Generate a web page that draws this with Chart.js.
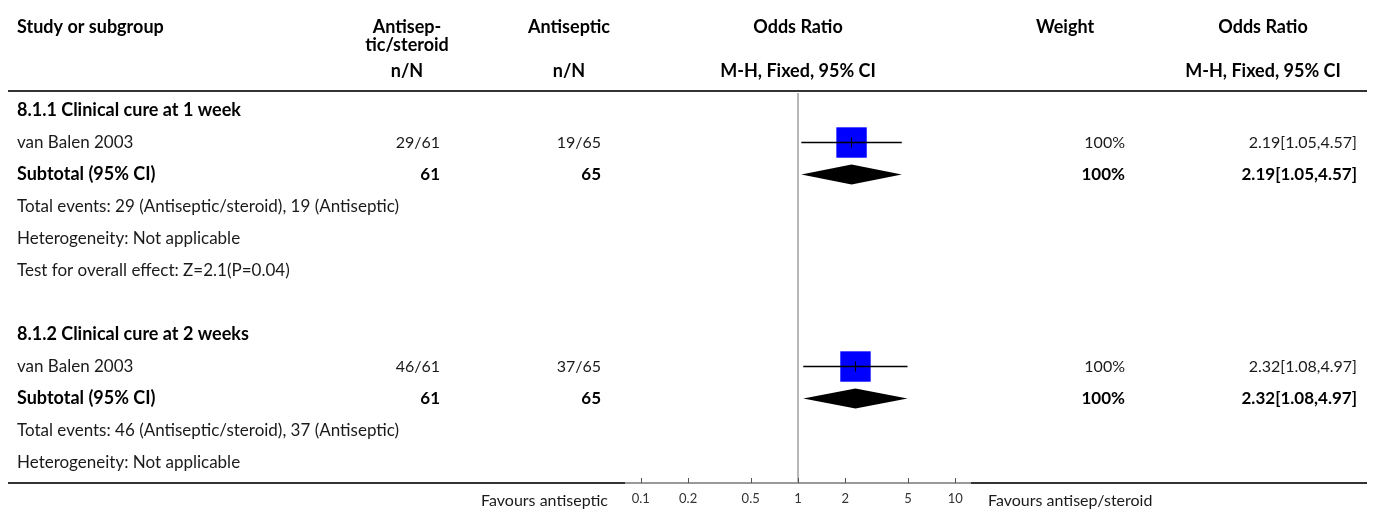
<!DOCTYPE html>
<html>
<head>
<meta charset="utf-8">
<script src="https://cdn.jsdelivr.net/npm/chart.js@4/dist/chart.umd.min.js"></script>
<style>
  html, body { margin: 0; padding: 0; background: #fff; }
  #wrap { width: 1375px; height: 511px; }
</style>
</head>
<body>
<div id="wrap"><canvas id="forest" width="1375" height="511"></canvas></div>
<script>
// --- data ---
const subgroupTitles = ['8.1.1 Clinical cure at 1 week', '8.1.2 Clinical cure at 2 weeks'];
const studyNames = ['van Balen 2003', 'van Balen 2003'];
const expEvents = [29, 46];
const expTotals = [61, 61];
const ctrlEvents = [19, 37];
const ctrlTotals = [65, 65];
const oddsRatios = [2.19, 2.32];
const ciLower = [1.05, 1.08];
const ciUpper = [4.57, 4.97];
const weights = [100, 100];
const heterogeneity = ['Not applicable', 'Not applicable'];
const overallEffect = ['Z=2.1(P=0.04)', null];
const axisTicks = [0.1, 0.2, 0.5, 1, 2, 5, 10];

const FONT = 'Lato';
const TEXT = '#1a1a1a';
const LEFT = 17;

// row index for each line of the table
const groups = [];
let nextRow = 0;
subgroupTitles.forEach((title, i) => {
    const start = nextRow;
    const g = { title, i, head: start, study: start + 1, subtotal: start + 2,
        events: start + 3, het: start + 4, test: overallEffect[i] ? start + 5 : null };
    groups.push(g);
    nextRow = (g.test !== null ? g.test : g.het) + 2;
});

const fmt = v => v.toFixed(2);

function label(ctx, s, x, y, align, bold, size) {
    ctx.font = (bold ? 'bold ' + (size || 18) : (size || 17)) + 'px ' + FONT;
    ctx.fillStyle = bold ? '#000' : TEXT;
    ctx.textAlign = align;
    ctx.textBaseline = 'middle';
    ctx.fillText(s, x, y);
}

const tablePlugin = {
    id: 'forestTable',
    beforeDatasetsDraw(chart) {
        const { ctx, chartArea, scales: { x } } = chart;
        const one = x.getPixelForValue(1);
        ctx.save();
        // line of no effect
        ctx.strokeStyle = '#a0a0a0';
        ctx.lineWidth = 1.5;
        ctx.beginPath();
        ctx.moveTo(one, chartArea.top + 2);
        ctx.lineTo(one, chartArea.bottom);
        ctx.stroke();
        ctx.restore();
    },
    afterDatasetsDraw(chart) {
        const { ctx, chartArea, scales: { x, y } } = chart;
        ctx.save();

        // header rules
        ctx.strokeStyle = '#333';
        ctx.lineWidth = 2;
        ctx.beginPath();
        ctx.moveTo(8, chartArea.top);
        ctx.lineTo(1367, chartArea.top);
        ctx.moveTo(8, chartArea.bottom);
        ctx.lineTo(chartArea.left, chartArea.bottom);
        ctx.moveTo(chartArea.right, chartArea.bottom);
        ctx.lineTo(1367, chartArea.bottom);
        ctx.stroke();

        // tick marks pointing up from the axis
        ctx.strokeStyle = '#555';
        ctx.lineWidth = 1;
        ctx.beginPath();
        axisTicks.forEach(v => {
            const px = Math.round(x.getPixelForValue(v)) + 0.5;
            ctx.moveTo(px, chartArea.bottom);
            ctx.lineTo(px, chartArea.bottom - 5);
        });
        ctx.stroke();

        // column headers
        const mid = (chartArea.left + chartArea.right) / 2;
        label(ctx, 'Study or subgroup', LEFT, 27, 'left', true);
        label(ctx, 'Antisep-', 407, 27, 'center', true);
        label(ctx, 'tic/steroid', 407, 45, 'center', true);
        label(ctx, 'Antiseptic', 569, 27, 'center', true);
        label(ctx, 'Odds Ratio', mid, 27, 'center', true);
        label(ctx, 'Weight', 1065, 27, 'center', true);
        label(ctx, 'Odds Ratio', 1263, 27, 'center', true);
        label(ctx, 'n/N', 407, 71, 'center', true);
        label(ctx, 'n/N', 569, 71, 'center', true);
        label(ctx, 'M-H, Fixed, 95% CI', mid, 71, 'center', true);
        label(ctx, 'M-H, Fixed, 95% CI', 1263, 71, 'center', true);

        groups.forEach(g => {
            const i = g.i;
            const ciText = fmt(oddsRatios[i]) + '[' + fmt(ciLower[i]) + ',' + fmt(ciUpper[i]) + ']';
            label(ctx, g.title, LEFT, y.getPixelForValue(g.head), 'left', true);

            let py = y.getPixelForValue(g.study);
            label(ctx, studyNames[i], LEFT, py, 'left', false);
            label(ctx, expEvents[i] + '/' + expTotals[i], 440, py, 'right', false, 16);
            label(ctx, ctrlEvents[i] + '/' + ctrlTotals[i], 601, py, 'right', false, 16);
            label(ctx, weights[i] + '%', 1125, py, 'right', false, 16);
            label(ctx, ciText, 1357, py, 'right', false, 16);

            py = y.getPixelForValue(g.subtotal);
            label(ctx, 'Subtotal (95% CI)', LEFT, py, 'left', true);
            label(ctx, String(expTotals[i]), 440, py, 'right', true, 17);
            label(ctx, String(ctrlTotals[i]), 601, py, 'right', true, 17);
            label(ctx, weights[i] + '%', 1125, py, 'right', true, 17);
            label(ctx, ciText, 1357, py, 'right', true, 17);

            label(ctx, 'Total events: ' + expEvents[i] + ' (Antiseptic/steroid), ' + ctrlEvents[i] + ' (Antiseptic)',
                LEFT, y.getPixelForValue(g.events), 'left', false);
            label(ctx, 'Heterogeneity: ' + heterogeneity[i], LEFT, y.getPixelForValue(g.het), 'left', false);
            if (g.test !== null) {
                label(ctx, 'Test for overall effect: ' + overallEffect[i], LEFT, y.getPixelForValue(g.test), 'left', false);
            }

            // pooled diamond
            const cy = y.getPixelForValue(g.subtotal);
            ctx.fillStyle = '#000';
            ctx.beginPath();
            ctx.moveTo(x.getPixelForValue(ciLower[i]), cy);
            ctx.lineTo(x.getPixelForValue(oddsRatios[i]), cy - 10);
            ctx.lineTo(x.getPixelForValue(ciUpper[i]), cy);
            ctx.lineTo(x.getPixelForValue(oddsRatios[i]), cy + 10);
            ctx.closePath();
            ctx.fill();
        });

        // favours labels
        label(ctx, 'Favours antiseptic', chartArea.left - 17, 501, 'right', false, 16);
        label(ctx, 'Favours antisep/steroid', chartArea.right + 17, 501, 'left', false, 16);
        ctx.restore();
    }
};

const squares = groups.map(g => ({ x: oddsRatios[g.i], y: g.study }));
const centres = squares.map(p => ({ x: p.x, y: p.y }));
const ciSets = groups.map(g => ({
    type: 'line',
    data: [{ x: ciLower[g.i], y: g.study }, { x: ciUpper[g.i], y: g.study }],
    borderColor: '#000',
    borderWidth: 1.5,
    pointRadius: 0,
    order: 2
}));

new Chart(document.getElementById('forest'), {
    type: 'scatter',
    data: {
        datasets: [
            { data: squares, pointStyle: 'rect', pointRadius: 21.5, backgroundColor: '#0000ff',
              borderWidth: 0, order: 3 },
            ...ciSets,
            { data: centres, pointStyle: 'line', rotation: 90, pointRadius: 5, borderColor: '#000',
              borderWidth: 1, order: 1 }
        ]
    },
    options: {
        responsive: false,
        animation: false,
        devicePixelRatio: 1,
        layout: { padding: { left: 625, right: 404, top: 91, bottom: 0 } },
        plugins: { legend: { display: false }, tooltip: { enabled: false } },
        scales: {
            x: {
                type: 'logarithmic',
                min: 0.0794,
                max: 12.59,
                afterBuildTicks: s => { s.ticks = axisTicks.map(v => ({ value: v })); },
                afterFit: s => { s.height = 28; },
                ticks: {
                    callback: v => String(v),
                    font: { family: FONT, size: 13 },
                    color: '#333',
                    padding: 8,
                    autoSkip: false,
                    maxRotation: 0
                },
                grid: { display: false, drawTicks: false },
                border: { display: true, color: '#999', width: 2 }
            },
            y: {
                type: 'linear',
                display: false,
                reverse: true,
                min: -0.61,
                max: 11.64
            }
        }
    },
    plugins: [tablePlugin]
});
</script>
</body>
</html>
